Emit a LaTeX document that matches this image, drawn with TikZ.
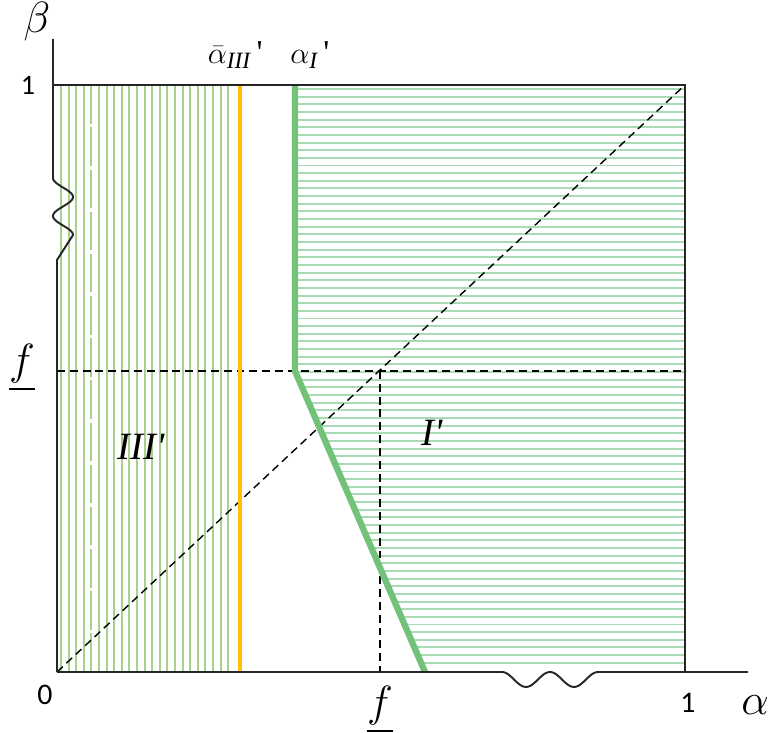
\documentclass[tikz,border=0pt]{standalone}
\usepackage{amsmath}
\usepackage{fontspec}
\newfontfamily\numfont{Carlito}
\newfontfamily\romfont{Liberation Serif}
\usepackage{tikz}
\usetikzlibrary{positioning}

\definecolor{hatchIII}{HTML}{A9D18E}
\definecolor{hatchI}{HTML}{A8DAB4}
\definecolor{bndI}{HTML}{72C27A}
\definecolor{bndIII}{HTML}{FFC000}

\begin{document}
\begin{tikzpicture}[x=0.02cm, y=0.02cm,
    axis/.style={draw=black!85, line width=1.1pt},
    guide/.style={draw=black, line width=0.8pt, dash pattern=on 4.5pt off 2.8pt},
    vhatch/.style={draw=hatchIII, line width=1.1pt},
    hhatch/.style={draw=hatchI, line width=1.1pt},
    num/.style={font=\numfont\fontsize{17}{17}\selectfont},
    lbl/.style={font=\fontsize{25}{25}\selectfont, inner sep=0pt},
    fl/.style={font=\fontsize{25}{25}\selectfont},
    top/.style={font=\fontsize{19}{19}\selectfont, inner sep=0pt},
    reg/.style={font=\romfont\itshape\fontsize{22}{22}\selectfont}
  ]
    \useasboundingbox (-57,-61) rectangle (714,672);
    % corners and marks
    \coordinate (O) at (0,0);
    \coordinate (Xend) at (691,0);
    \coordinate (Yend) at (-4,633);
    \coordinate (TL) at (-4,587);
    \coordinate (TR) at (628,587);
    \coordinate (BR) at (628,0);
    \coordinate (Fy) at (0,301);
    \coordinate (FyR) at (628,301);
    \coordinate (Fx) at (323,0);
    \coordinate (FF) at (323,301);
    \coordinate (Ytop) at (183,587);
    \coordinate (Ybot) at (183,0);
    \coordinate (Gtop) at (238,587);
    \coordinate (Gmid) at (238,301);
    \coordinate (Gbot) at (368,0);
    \coordinate (Wx) at (445,0);
    \coordinate (Wy) at (-4,494);
    \coordinate (Wy2) at (0,412);

    % region III'
    \foreach \k in {0,...,3,5,6,...,22}
      \draw[vhatch] ({4+7.6*\k},0) -- ({4+7.6*\k},587);
    \draw[vhatch, dash pattern=on 22pt off 2pt] (34.4,0) -- (34.4,587);

    % region I'
    \begin{scope}
      \clip (Gtop) -- (TR) -- (BR) -- (Gbot) -- (Gmid) -- cycle;
      \foreach \k in {0,...,75}
        \draw[hhatch] (238,{583-7.65*\k}) -- (628,{583-7.65*\k});
    \end{scope}

    \draw[guide] (Fy) -- (FyR);
    \draw[guide] (FF) -- (Fx);
    \draw[guide] (O) -- (TR);

    \draw[draw=bndIII, line width=2.6pt] (Ybot) -- (Ytop);
    \draw[draw=bndI, line width=3.6pt] (Gtop) -- (Gmid) -- (Gbot);

    % axes
    \draw[axis] (TL) -- (TR) -- (BR);
    \draw[axis] (O) -- (Wx) -- plot[domain=0:96, samples=49] ({445+\x},{-7.5*(1-cos(7.5*\x))}) -- (Xend);
    \draw[axis] (Yend) -- (Wy) -- plot[domain=0:540, samples=61] ({-4+10*(1-cos(\x))},{494-\x/540*57}) -- (Wy2) -- (O);

    % labels
    \node[lbl] (beta) at (-20,650) {$\beta$};
    \node[lbl] (alpha) at (698,-33) {$\alpha$};
    \node[num, font=\numfont\fontsize{16}{16}\selectfont] (one1) at (-29,587) {1};
    \node[num] (one2) at (631,-31) {1};
    \node[num] (zero) at (-12,-23) {0};
    \node[fl] (fleft) at (-35,304) {$\underline{f}$};
    \node[fl] (fbot) at (323,-38) {$\underline{f}$};
    \node[top, anchor=south east] (aIII) at (206,603) {$\bar{\alpha}_{\text{\romfont\itshape III}}$\,{\romfont '}};
    \node[top, anchor=south west] (aI) at (233,603) {$\alpha_{\text{\romfont\itshape I}}$\,{\romfont '}};
    \node[reg] (rIII) at (84,225) {III'};
    \node[reg] (rI) at (375,239) {I'};
  \end{tikzpicture}
\end{document}
